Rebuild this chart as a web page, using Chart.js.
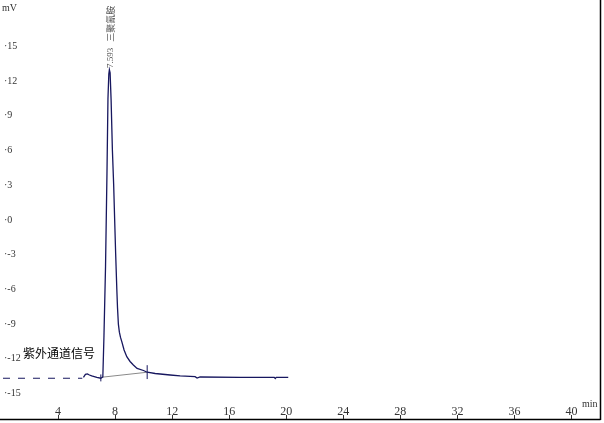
<!DOCTYPE html>
<html>
<head>
<meta charset="utf-8">
<script src="https://cdn.jsdelivr.net/npm/chart.js@4"></script>
<style>
  html, body { margin: 0; padding: 0; background: #fff; }
  #wrap { width: 604px; height: 423px; position: relative; }
</style>
</head>
<body>
<div id="wrap"><canvas id="chromChart"></canvas></div>
<script>
// Data (time in min, signal in mV)
const signalTime = [5.78, 5.92, 6.06, 6.20, 6.36, 6.72, 7.00, 7.14, 7.22, 7.33, 7.43, 7.50, 7.56, 7.60, 7.65, 7.72, 7.81, 7.90, 7.97, 8.04, 8.12, 8.17, 8.23, 8.30, 8.38, 8.47, 8.63, 8.82, 9.05, 9.28, 9.54, 9.99, 10.25, 10.81, 11.86, 12.56, 13.61, 13.75, 13.96, 16.77, 19.16, 19.23, 19.30, 20.14];
const signalValue = [-13.60, -13.35, -13.31, -13.40, -13.48, -13.60, -13.68, -13.57, -10.00, -4.00, 4.00, 10.50, 12.60, 12.96, 12.70, 10.37, 6.05, 3.02, 0.00, -2.94, -5.96, -7.60, -9.00, -9.70, -10.15, -10.52, -11.24, -11.82, -12.23, -12.53, -12.83, -13.01, -13.16, -13.27, -13.40, -13.48, -13.54, -13.66, -13.57, -13.60, -13.60, -13.70, -13.60, -13.60];

// dashed lead-in before the signal starts
const leadTime = [0.14, 5.70];
const leadValue = [-13.68, -13.68];

// integration baseline under the peak
const baseTime = [7.00, 10.25];
const baseValue = [-13.60, -13.16];

// start / end marks of the peak
const markTime = [7.00, 10.25];
const markLow = [-13.95, -13.75];
const markHigh = [-13.35, -12.55];

const peakTime = 7.60;
const peakValue = 12.96;
const peakLabel = '7.593 三聚氰胺';

const yTicks = [15, 12, 9, 6, 3, 0, -3, -6, -9, -12, -15];
const xTicks = [4, 8, 12, 16, 20, 24, 28, 32, 36, 40];

const toPoints = (xs, ys) => xs.map((x, i) => ({ x: x, y: ys[i] }));

const lineColor = '#17175f';

const datasets = [
    {
        data: toPoints(signalTime, signalValue),
        borderColor: lineColor,
        borderWidth: 1.3
    },
    {
        data: toPoints(leadTime, leadValue),
        borderColor: lineColor,
        borderWidth: 1.2,
        borderDash: [7, 8]
    },
    {
        data: toPoints(baseTime, baseValue),
        borderColor: '#8a8a8a',
        borderWidth: 1
    }
];
markTime.forEach((t, i) => {
    datasets.push({
        data: [{ x: t, y: markLow[i] }, { x: t, y: markHigh[i] }],
        borderColor: lineColor,
        borderWidth: 1
    });
});

// Axes, tick labels and annotations drawn from the chart's scales
const decorPlugin = {
    id: 'decor',
    afterDatasetsDraw(chart) {
        const ctx = chart.ctx;
        const xs = chart.scales.x;
        const ys = chart.scales.y;
        const area = chart.chartArea;
        ctx.save();

        // bottom axis and right border
        ctx.strokeStyle = '#000';
        ctx.lineWidth = 1.5;
        ctx.beginPath();
        ctx.moveTo(0, area.bottom + 0.5);
        ctx.lineTo(area.right + 0.5, area.bottom + 0.5);
        ctx.moveTo(area.right + 0.5, 0);
        ctx.lineTo(area.right + 0.5, area.bottom + 1);
        ctx.stroke();

        // y tick labels
        ctx.fillStyle = '#333';
        ctx.font = '10px "Liberation Serif", serif';
        ctx.textAlign = 'left';
        ctx.textBaseline = 'middle';
        yTicks.forEach(v => {
            ctx.fillText('·' + v, 4, ys.getPixelForValue(v));
        });

        // x tick labels and little tick marks
        ctx.textAlign = 'center';
        ctx.textBaseline = 'alphabetic';
        ctx.font = '12px "Liberation Serif", serif';
        ctx.lineWidth = 1;
        ctx.strokeStyle = '#333';
        xTicks.forEach(t => {
            const px = xs.getPixelForValue(t);
            ctx.fillText(String(t), px, area.bottom - 4);
            ctx.beginPath();
            ctx.moveTo(Math.round(px) + 0.5, area.bottom - 4);
            ctx.lineTo(Math.round(px) + 0.5, area.bottom);
            ctx.stroke();
        });

        // axis units
        ctx.font = '10px "Liberation Serif", serif';
        ctx.textAlign = 'left';
        ctx.fillText('min', area.right - 18, area.bottom - 12);
        ctx.fillText('mV', 2, 11);

        // channel name
        ctx.fillStyle = '#000';
        ctx.font = '12px "Noto Sans CJK SC", sans-serif';
        ctx.textBaseline = 'middle';
        ctx.fillText('紫外通道信号', 23, 353);

        // vertical peak label
        const px = xs.getPixelForValue(peakTime);
        const py = ys.getPixelForValue(peakValue);
        ctx.translate(px + 1, py - 2);
        ctx.rotate(-Math.PI / 2);
        ctx.fillStyle = '#555';
        ctx.textAlign = 'left';
        ctx.textBaseline = 'middle';
        ctx.font = '9px "Liberation Serif", serif';
        const num = peakLabel.split(' ')[0];
        ctx.fillText(num, 0, 0);
        const w = ctx.measureText(num).width + 6;
        ctx.font = '9px "Noto Sans CJK SC", sans-serif';
        ctx.fillText(peakLabel.split(' ')[1], w, 0);

        ctx.restore();
    }
};

new Chart(document.getElementById('chromChart'), {
    type: 'line',
    data: { datasets: datasets },
    options: {
        responsive: true,
        maintainAspectRatio: false,
        animation: false,
        layout: { padding: { left: 1, right: 4, top: 0, bottom: 4 } },
        elements: {
            point: { radius: 0 },
            line: { tension: 0, fill: false }
        },
        plugins: {
            legend: { display: false },
            tooltip: { enabled: false }
        },
        scales: {
            x: { type: 'linear', min: 0, max: 42, display: false },
            y: { type: 'linear', min: -17.2, max: 19.0, display: false }
        }
    },
    plugins: [decorPlugin]
});
</script>
</body>
</html>
